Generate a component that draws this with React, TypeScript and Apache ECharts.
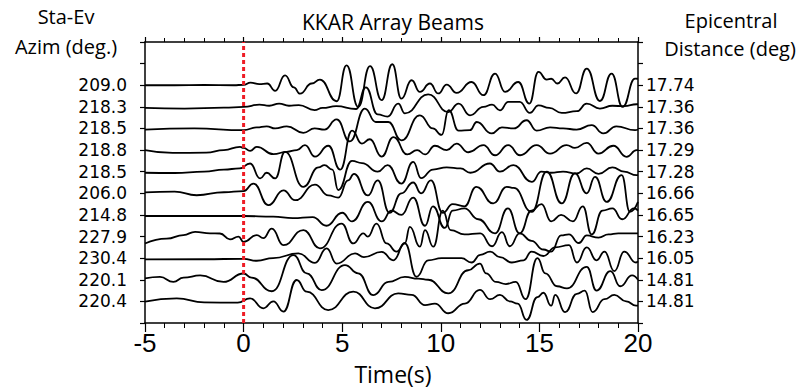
import React, { useEffect, useRef } from "react";
import * as echarts from "echarts";

const azimuths = ["209.0", "218.3", "218.5", "218.8", "218.5", "206.0", "214.8", "227.9", "230.4", "220.1", "220.4"];
const distances = ["17.74", "17.36", "17.36", "17.29", "17.28", "16.66", "16.65", "16.23", "16.05", "14.81", "14.81"];

// [time (s), amplitude in trace-spacing units]
const trace1 = [[-5,0],[-3.5,0],[-2,0.01],[-0.5,0],[0,0.02],[0.35,0.12],[0.8,0.05],[1.2,0.08],[1.6,-0.26],[2.1,0.46],[2.55,-0.1],[2.86,-0.39],[3.45,0.08],[3.87,0.26],[4.72,-0.74],[5.22,0.92],[5.81,-1.0],[6.41,0.88],[7.0,-0.69],[7.54,0.97],[8.0,-0.62],[8.52,0.23],[8.94,-0.31],[9.45,0.08],[9.87,-0.38],[10.3,0.03],[10.8,-0.35],[11.56,0.15],[12.16,-0.46],[12.75,0.54],[13.26,-0.31],[13.93,0.15],[14.49,-0.85],[14.95,0.62],[15.37,0.26],[15.6,0.3],[15.91,0.08],[16.3,0.36],[16.86,-0.38],[17.4,0.77],[18.07,-0.73],[18.66,0.54],[19.22,-1.0],[19.85,0.31],[20,0.3]];
const trace2 = [[-5,-0.05],[-3,-0.08],[-1,-0.04],[0,0],[0.8,0.1],[1.3,0.05],[1.8,0.15],[2.3,0.05],[2.8,0.08],[3.6,-0.15],[4.0,-0.05],[4.7,0.03],[5.7,-0.1],[6.2,0.9],[6.8,-0.35],[7.3,-0.45],[7.84,0.15],[8.18,-0.3],[9.36,0.58],[10.38,-0.24],[10.9,0.15],[11.48,-0.39],[12.16,0.0],[12.6,0.1],[13.0,-0.16],[13.42,0.23],[14.0,0.23],[14.52,-0.28],[14.95,0.07],[15.5,-0.05],[16.13,-0.28],[16.9,-0.2],[17.4,0.15],[18.07,-0.08],[18.7,0.05],[19.3,0.03],[19.93,0.12],[20,0.12]];
const trace3 = [[-5,-0.05],[-2.5,0],[0,-0.08],[0.67,0.05],[1.17,0.1],[1.6,0.0],[2.19,0.1],[3.03,-0.2],[3.6,0.0],[4.1,-0.05],[4.72,0.42],[5.39,-0.6],[6.15,0.92],[6.7,0.3],[7.34,0.3],[8.0,-0.55],[8.94,0.61],[9.6,0.0],[10.04,-0.3],[10.4,0.85],[10.9,-0.1],[11.48,-0.08],[11.82,0.3],[12.58,-0.23],[13.1,0.05],[13.7,0.0],[14.35,0.38],[14.86,-0.1],[15.54,0.05],[16.2,0.0],[16.89,-0.05],[17.65,0.15],[18.24,-0.23],[18.9,0.1],[19.85,-0.08],[20,-0.05]];
const trace4 = [[-5,0],[-3.6,-0.13],[-1.9,-0.12],[-1,0.0],[-0.18,0.15],[0,0.1],[0.33,-0.04],[0.67,0.15],[1.51,-0.19],[2.19,-0.08],[2.7,0.0],[3.11,0.23],[3.62,-0.3],[4.3,0.2],[4.9,-0.9],[5.5,0.9],[6.0,0.3],[6.4,0.5],[7.0,-0.3],[7.6,0.6],[8.3,-0.2],[8.8,0.0],[9.2,-0.2],[9.7,0.2],[10.3,0.0],[10.8,0.3],[11.4,-0.1],[12.16,0.23],[12.75,-0.24],[13.42,0.23],[14.02,-0.24],[14.86,0.23],[15.54,-0.16],[16.38,0.23],[16.8,0.1],[17.4,0.33],[17.99,-0.16],[18.75,0.2],[19.42,-0.31],[19.93,0.0],[20,0.0]];
const trace5 = [[-5,-0.05],[-3.5,-0.06],[-2,0.0],[-1,0.1],[-0.2,0.15],[0.33,0.38],[0.84,-0.31],[1.17,-0.05],[1.6,-0.31],[2.1,0.92],[3.03,-0.7],[3.8,0.2],[4.1,0.3],[4.5,0.1],[4.8,-0.85],[5.5,0.5],[6.0,0.4],[6.8,0.0],[7.3,0.3],[8.0,-0.55],[8.6,0.45],[9.0,-0.3],[9.6,0.1],[10.3,0.2],[11.0,0.15],[11.5,-0.05],[12.49,0.38],[13.0,0.0],[13.68,0.3],[14.61,-0.47],[15.1,0.0],[15.6,-0.05],[16.2,0.0],[16.89,-0.08],[17.4,0.15],[18.0,-0.1],[18.7,0.2],[19.3,0.0],[19.93,-0.16],[20,-0.15]];
const trace6 = [[-5,0.04],[-3.5,0.08],[-2.38,-0.09],[-1,0.05],[0,0.1],[0.5,0.45],[1.26,-0.55],[2.02,0.14],[2.61,-0.32],[3.62,0.4],[4.3,-0.1],[4.8,-0.2],[5.3,0.6],[5.6,0.9],[6.3,-0.1],[6.8,0.6],[7.4,-0.9],[8.0,0.0],[8.6,0.5],[9.0,0.0],[9.5,0.6],[10.1,-0.9],[10.6,-0.5],[11.2,-0.6],[11.8,0.3],[12.66,-0.47],[13.34,0.3],[13.7,0.25],[14.61,-0.86],[15.37,1.0],[16.13,-0.47],[16.8,0.92],[17.4,0.0],[17.82,0.76],[18.41,-0.4],[19.17,0.84],[19.59,-0.86],[20,-0.4]];
const trace7 = [[-5,-0.05],[-2,-0.05],[0,-0.05],[1.5,-0.08],[2.5,-0.15],[3.5,-0.1],[4.2,-0.5],[5.0,0.1],[5.5,-0.3],[6.3,0.6],[7.0,-0.3],[7.5,0.2],[8.0,0.0],[8.6,0.8],[9.2,-0.5],[9.6,0.4],[10.2,-0.6],[10.6,0.2],[11.2,0.3],[11.9,-0.2],[12.75,-0.85],[13.4,0.3],[14.0,-0.85],[14.6,0.2],[15.1,0.5],[15.6,-0.3],[16.1,0.0],[16.7,-0.3],[17.2,0.4],[17.65,-0.9],[18.2,0.2],[18.7,0.3],[19.2,-0.2],[19.8,0.3],[20,0.2]];
const trace8 = [[-5,-0.32],[-3.9,-0.1],[-3.05,0.07],[-2.46,0.22],[-1.7,0.15],[-1.2,0.14],[-0.69,-0.13],[-0.26,0.0],[0,-0.25],[0.67,0.07],[1.0,-0.07],[1.43,0.37],[2.02,-0.4],[3.03,0.3],[3.87,-0.55],[4.97,0.6],[5.56,-0.32],[6.07,0.15],[6.3,0.0],[6.74,0.6],[7.25,-0.32],[7.76,-0.7],[8.18,-0.3],[8.43,0.45],[8.94,-0.47],[9.2,0.3],[9.62,-0.47],[10.1,1.2],[10.5,0.3],[11.2,0.1],[12.0,0.15],[12.6,-0.45],[13.1,0.2],[13.5,-0.45],[14.0,0.15],[14.6,-0.2],[15.2,-0.6],[15.6,-0.7],[16.1,0.05],[16.5,0.1],[17.0,-0.3],[17.4,0.05],[18.0,-0.05],[18.5,0.1],[19.0,0.15],[19.9,0.15],[20,0.15]];
const trace9 = [[-5,-0.06],[-2,-0.05],[0,-0.03],[0.67,-0.12],[1.5,0.0],[2.78,0.22],[3.62,-0.22],[4.21,0.45],[4.72,-0.25],[5.65,0.22],[6.1,0.05],[7.0,0.29],[7.59,-0.1],[8.18,0.68],[8.77,-0.86],[9.36,-0.1],[10.04,0.0],[11.05,0.0],[11.56,-0.2],[12.0,0.15],[12.5,0.3],[13.0,0.05],[13.6,-0.2],[14.2,-0.1],[14.6,0.3],[15.2,0.1],[15.8,0.5],[16.5,0.6],[16.9,-0.2],[17.4,0.5],[17.9,-0.1],[18.3,0.3],[18.8,-0.6],[19.3,0.3],[19.9,-0.2],[20,-0.15]];
const trace10 = [[-5,0.06],[-4.24,0.13],[-3.56,-0.1],[-3.05,0.1],[-2.2,0.2],[-1.02,-0.1],[0,0.29],[0.4,0.1],[1.43,-0.53],[2.53,1.14],[3.2,0.3],[3.96,-0.48],[5.14,0.68],[5.81,0.3],[6.58,-0.71],[7.34,-0.1],[8.18,0.13],[8.86,0.05],[9.36,0.0],[10.38,-0.63],[11.39,0.44],[11.98,0.75],[12.3,0.3],[12.8,-0.1],[13.3,-0.2],[13.8,-0.1],[14.3,-0.9],[14.9,1.0],[15.3,0.3],[15.9,-0.3],[16.4,-0.4],[17.4,0.6],[17.9,-0.5],[18.6,0.4],[19.1,-0.3],[19.7,0.2],[20,0.0]];
const trace11 = [[-5,-0.01],[-3.39,0.14],[-2,-0.05],[-0.3,-0.06],[0.33,0.14],[1.0,-0.32],[1.51,0.0],[2.02,-0.47],[2.69,0.99],[3.2,0.45],[4.29,-0.4],[5.56,0.45],[6.66,-0.32],[7.84,0.37],[8.52,0.3],[9.2,-0.17],[9.7,-0.1],[10.38,-0.55],[11.22,-0.1],[11.98,0.53],[12.5,0.1],[13.0,0.3],[13.5,0.0],[13.9,-0.1],[14.35,-0.86],[14.9,0.2],[15.2,0.4],[15.6,-0.2],[15.8,0.3],[16.3,-0.5],[16.9,0.35],[17.3,0.5],[17.7,-0.5],[18.3,0.1],[18.8,0.3],[19.4,0.0],[19.9,-0.2],[20,-0.2]];

const traces = [trace1, trace2, trace3, trace4, trace5, trace6, trace7, trace8, trace9, trace10, trace11];
const arrivalTime = 0;
const timeMin = -5;
const timeMax = 20;

const FONT = "Open Sans";
const LABEL_FONT = "DejaVu Sans";

export default function App() {
  const ref = useRef<HTMLDivElement>(null);
  useEffect(() => {
    document.body.style.margin = "0";
    if (!ref.current) return;
    const chart = echarts.init(ref.current, null, { renderer: "svg" });
    const n = traces.length;
    const axisLine = { onZero: false, lineStyle: { color: "#000", width: 1.5 } };
    const yLabel = (arr: string[]) => (v: number) => {
      const i = n - v;
      return Number.isInteger(v) && i >= 0 && i < n ? arr[i] : "";
    };
    const series: any[] = traces.map((tr, i) => ({
      type: "line",
      data: tr.map(([t, d]) => [t, n - i + d]),
      smooth: 0.5,
      smoothMonotone: "x",
      symbol: "none",
      showSymbol: false,
      silent: true,
      lineStyle: { color: "#000", width: 1.8 },
      z: 2,
    }));
    series.push({
      type: "line",
      data: [[arrivalTime, 0], [arrivalTime, n + 2]],
      symbol: "none",
      silent: true,
      lineStyle: { color: "#ee1c25", width: 3, type: [4, 3] },
      z: 5,
    });
    const txt = (text: string, x: number, y: number, fontSize: number) => ({
      type: "text", x, y,
      style: {
        text, fontSize, lineHeight: fontSize, fontFamily: FONT, fill: "#000",
        align: "center", verticalAlign: "middle", textAlign: "center", textVerticalAlign: "middle",
      },
    });
    chart.setOption({
      animation: false,
      grid: { left: 145, right: 165, top: 42, bottom: 66 },
      xAxis: [
        {
          type: "value", min: timeMin, max: timeMax, interval: 5, position: "bottom",
          axisLine, axisTick: { length: 9, lineStyle: { color: "#000", width: 1.2 } },
          minorTick: { show: true, splitNumber: 5, length: 5, lineStyle: { color: "#000", width: 1 } },
          axisLabel: { fontSize: 26, lineHeight: 26, color: "#000", fontFamily: "Liberation Sans", margin: 7 },
          splitLine: { show: false },
        },
        {
          type: "value", min: timeMin, max: timeMax, interval: 5, position: "top",
          axisLine, axisTick: { length: 5, lineStyle: { color: "#000", width: 1.2 } },
          minorTick: { show: true, splitNumber: 5, length: 4, lineStyle: { color: "#000", width: 1 } },
          axisLabel: { show: false },
          splitLine: { show: false },
        },
      ],
      yAxis: [
        {
          type: "value", min: 0, max: n + 2, interval: 1, position: "left",
          axisLine, axisTick: { length: 5, lineStyle: { color: "#000", width: 1.2 } },
          axisLabel: { formatter: yLabel(azimuths), fontSize: 17, lineHeight: 18, color: "#000", fontFamily: LABEL_FONT, margin: 18 },
          splitLine: { show: false },
        },
        {
          type: "value", min: 0, max: n + 2, interval: 1, position: "right",
          axisLine, axisTick: { length: 5, lineStyle: { color: "#000", width: 1.2 } },
          axisLabel: { formatter: yLabel(distances), fontSize: 17, lineHeight: 18, color: "#000", fontFamily: LABEL_FONT, margin: 8 },
          splitLine: { show: false },
        },
      ],
      series,
      graphic: [
        txt("KKAR Array Beams", 393, 22, 21),
        txt("Sta-Ev", 66, 16, 20),
        txt("Azim (deg.)", 66, 46, 20),
        txt("Epicentral", 731, 20, 20),
        txt("Distance (deg)", 730, 48, 20),
        txt("Time(s)", 393, 374, 23),
      ],
    });
    return () => chart.dispose();
  }, []);
  return <div ref={ref} style={{ width: 803, height: 389 }} />;
}
